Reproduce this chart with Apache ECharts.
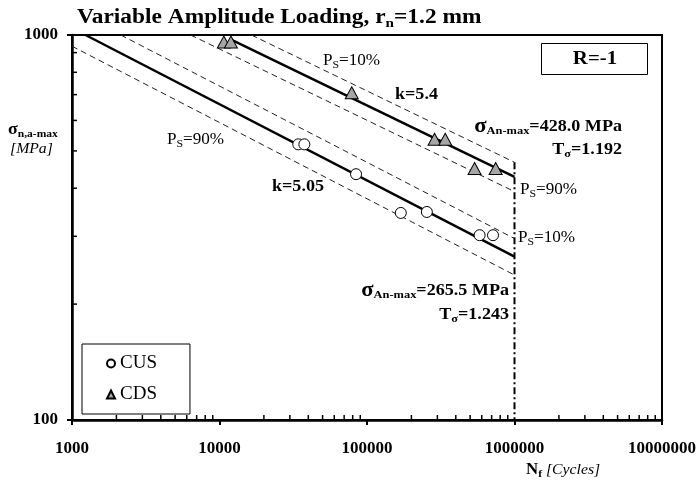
<!DOCTYPE html>
<html>
<head>
<meta charset="utf-8">
<script src="https://cdn.jsdelivr.net/npm/echarts@6/dist/echarts.min.js"></script>
<style>
  html, body { margin: 0; padding: 0; background: #fff; }
  #main { width: 699px; height: 486px; }
</style>
</head>
<body>
<div id="main"></div>
<script>
// test results
var cusN = [34200, 37600, 84300, 169500, 254600, 580000, 715000];
var cusS = [520, 520, 435, 345, 347, 302, 302];
var cdsN = [10700, 11950, 78800, 287000, 339000, 536000, 745000];
var cdsS = [959, 959, 708, 536, 536, 450, 450];

// fitted curves (end points)
var cusMeanN = [1235, 1000000], cusMeanS = [1000, 265.5];
var cusP10N = [2140, 1000000], cusP10S = [1000, 296];
var cusP90N = [1000, 1000000], cusP90S = [935, 238];
var cdsMeanN = [11800, 1000000], cdsMeanS = [975, 428];
var cdsP10N = [16450, 1000000], cdsP10S = [1000, 467];
var cdsP90N = [6370, 1000000], cdsP90S = [1000, 392];
var kneeN = [1000000, 1000000], kneeS = [467, 100];

// minor ticks
var xMinor = [2000, 3000, 4000, 5000, 6000, 7000, 8000, 9000,
  20000, 30000, 40000, 50000, 60000, 70000, 80000, 90000,
  200000, 300000, 400000, 500000, 600000, 700000, 800000, 900000,
  2000000, 3000000, 4000000, 5000000, 6000000, 7000000, 8000000, 9000000];
var yMinor = [200, 300, 400, 500, 600, 700, 800, 900];

(function() {
  var myChart = echarts.init(document.getElementById("main"));
  var FONT = "Liberation Serif";

  function pairs(a, b) {
    return a.map(function(v, i) {
      return [v, b[i]];
    });
  }

  function fitLine(n, s, dashed) {
    return {
      type: "line",
      data: pairs(n, s),
      symbol: "none",
      silent: true,
      z: 2,
      lineStyle: dashed
        ? { color: "#222", width: 1, type: [6, 4] }
        : { color: "#000", width: 2.5 },
    };
  }

  // the original text is a bit wider than the font, so stretch it
  function txt(x, y, text, rich, align, sx) {
    return {
      type: "text",
      x: x,
      y: y,
      scaleX: sx || 1.13,
      z: 10,
      style: {
        text: text,
        rich: rich,
        align: align || "left",
        verticalAlign: "middle",
        fill: "#000",
      },
    };
  }

  var bold = { fontFamily: FONT, fontWeight: "bold", fontSize: 16, color: "#000", lineHeight: 20, verticalAlign: "middle" };
  var boldSub = { fontFamily: FONT, fontWeight: "bold", fontSize: 11, color: "#000", lineHeight: 12, verticalAlign: "bottom" };
  var sig = { fontFamily: FONT, fontWeight: "bold", fontSize: 20, color: "#000", lineHeight: 20, verticalAlign: "middle" };
  var norm = { fontFamily: FONT, fontSize: 16, color: "#333", lineHeight: 20, verticalAlign: "middle" };
  var normSub = { fontFamily: FONT, fontSize: 11, color: "#333", lineHeight: 12, verticalAlign: "bottom" };
  var ital = { fontFamily: FONT, fontStyle: "italic", fontSize: 15, color: "#000", lineHeight: 20, verticalAlign: "middle" };

  var psRich = { a: norm, s: normSub };
  var boldRich = { b: bold, s: boldSub, g: sig };

  var option = {
    animation: false,
    backgroundColor: "#fff",
    grid: {
      left: 72,
      right: 37,
      top: 35,
      bottom: 66,
      show: true,
      borderColor: "#000",
      borderWidth: 2,
    },
    legend: {
      data: ["CUS", "CDS"],
      orient: "vertical",
      left: 82,
      top: 344,
      itemWidth: 8,
      itemHeight: 8,
      itemGap: 12,
      padding: [10, 33, 10, 24],
      borderColor: "#000",
      borderWidth: 1,
      textStyle: { fontFamily: FONT, fontSize: 19, color: "#000" },
    },
    xAxis: {
      type: "log",
      logBase: 10,
      min: 1000,
      max: 10000000,
      axisLine: { lineStyle: { color: "#000", width: 2.5 } },
      axisTick: { length: 5, lineStyle: { color: "#000", width: 2 } },
      axisLabel: {
        fontFamily: FONT,
        fontWeight: "bold",
        fontSize: 17,
        color: "#000",
        margin: 20,
        formatter: function(v) {
          return String(Math.round(v));
        },
      },
      splitLine: { show: false },
    },
    yAxis: {
      type: "log",
      logBase: 10,
      min: 100,
      max: 1000,
      axisLine: { lineStyle: { color: "#000", width: 2.5 } },
      axisTick: { length: 5, lineStyle: { color: "#000", width: 2 } },
      axisLabel: {
        fontFamily: FONT,
        fontWeight: "bold",
        fontSize: 17,
        color: "#000",
        margin: 14,
        formatter: function(v) {
          return String(Math.round(v));
        },
      },
      splitLine: { show: false },
    },
    series: [
      fitLine(cusMeanN, cusMeanS, false),
      fitLine(cusP10N, cusP10S, true),
      fitLine(cusP90N, cusP90S, true),
      fitLine(cdsMeanN, cdsMeanS, false),
      fitLine(cdsP10N, cdsP10S, true),
      fitLine(cdsP90N, cdsP90S, true),
      {
        type: "line",
        data: pairs(kneeN, kneeS),
        symbol: "none",
        silent: true,
        z: 2,
        lineStyle: { color: "#000", width: 2, type: [7, 3, 2, 3] },
      },
      {
        name: "CUS",
        type: "scatter",
        data: pairs(cusN, cusS),
        symbol: "circle",
        symbolSize: 11,
        z: 3,
        itemStyle: { color: "#fff", borderColor: "#000", borderWidth: 1, opacity: 1 },
      },
      {
        name: "CDS",
        type: "scatter",
        data: pairs(cdsN, cdsS),
        symbol: "triangle",
        symbolSize: [13, 12],
        z: 3,
        itemStyle: { color: "#a6a6a6", borderColor: "#000", borderWidth: 1, opacity: 1 },
      },
      // minor ticks on the x axis (pointing inward)
      {
        type: "custom",
        silent: true,
        z: 4,
        data: xMinor.map(function(v) {
          return [v, 100];
        }),
        renderItem: function(params, api) {
          var p = api.coord([api.value(0), api.value(1)]);
          return {
            type: "line",
            shape: { x1: p[0], y1: p[1], x2: p[0], y2: p[1] - 5 },
            style: { stroke: "#000", lineWidth: 1.5 },
          };
        },
      },
      // minor ticks on the y axis
      {
        type: "custom",
        silent: true,
        z: 4,
        data: yMinor.map(function(v) {
          return [1000, v];
        }),
        renderItem: function(params, api) {
          var p = api.coord([api.value(0), api.value(1)]);
          return {
            type: "line",
            shape: { x1: p[0], y1: p[1], x2: p[0] + 5, y2: p[1] },
            style: { stroke: "#000", lineWidth: 1.5 },
          };
        },
      },
    ],
    graphic: [
      // title
      txt(77, 18, "{b|Variable Amplitude Loading, r}{s|n}{b|=1.2 mm}", {
        b: { fontFamily: FONT, fontWeight: "bold", fontSize: 20, color: "#000", lineHeight: 24, verticalAlign: "middle" },
        s: { fontFamily: FONT, fontWeight: "bold", fontSize: 13, color: "#000", lineHeight: 14, verticalAlign: "bottom" },
      }, "left", 1.17),
      // axis names
      txt(8, 130, "{g|σ}{s|n,a-max}", {
        g: { fontFamily: FONT, fontWeight: "bold", fontSize: 17, color: "#000", lineHeight: 20, verticalAlign: "middle" },
        s: boldSub,
      }, "left", 1.05),
      txt(10, 149, "{i|[MPa]}", { i: ital }, "left", 1.05),
      txt(526, 470, "{b|N}{s|f}{i| [Cycles]}", { b: bold, s: boldSub, i: ital }, "left", 1.05),
      // R box
      {
        type: "rect",
        shape: { x: 541.5, y: 43.5, width: 106, height: 31 },
        style: { fill: "#fff", stroke: "#000", lineWidth: 1 },
        z: 9,
      },
      txt(595, 59, "{b|R=-1}", {
        b: { fontFamily: FONT, fontWeight: "bold", fontSize: 19, color: "#000", lineHeight: 22 },
      }, "center", 1.1),
      // CDS annotations
      txt(323, 61, "{a|P}{s|S}{a|=10%}", psRich, "left", 1.07),
      txt(395, 95, "{b|k=5.4}", boldRich),
      txt(622, 127, "{g|σ}{s|An-max}{b|=428.0 MPa}", boldRich, "right"),
      txt(622, 150, "{b|T}{s|σ}{b|=1.192}", boldRich, "right"),
      txt(520, 190, "{a|P}{s|S}{a|=90%}", psRich, "left", 1.07),
      // CUS annotations
      txt(518, 238, "{a|P}{s|S}{a|=10%}", psRich, "left", 1.07),
      txt(167, 140, "{a|P}{s|S}{a|=90%}", psRich, "left", 1.07),
      txt(272, 187, "{b|k=5.05}", boldRich),
      txt(509, 291, "{g|σ}{s|An-max}{b|=265.5 MPa}", boldRich, "right"),
      txt(509, 315, "{b|T}{s|σ}{b|=1.243}", boldRich, "right"),
    ],
  };

  myChart.setOption(option);
  window.addEventListener("resize", function() {
    myChart.resize();
  });
})();
</script>
</body>
</html>
